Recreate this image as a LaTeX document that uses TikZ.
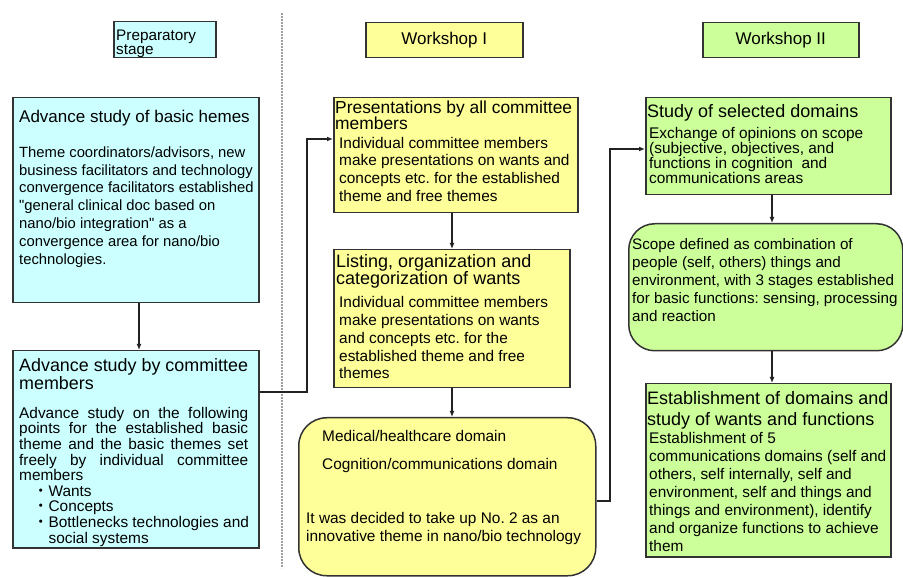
\documentclass[tikz,border=0pt]{standalone}
\usepackage{fontspec}
\setmainfont{Liberation Sans}
\newfontfamily\cjkdot{Noto Sans CJK JP}
% same face without the TeX input mapping, for a straight double quote
\newfontfamily\qfont{Liberation Sans}[Ligatures=ResetAll]
\usetikzlibrary{arrows.meta}
\frenchspacing

\definecolor{prepfill}{HTML}{CCFFFF}
\definecolor{wsonefill}{HTML}{FFFF99}
\definecolor{wstwofill}{HTML}{CCFF99}
\definecolor{edgecol}{HTML}{333333}
\definecolor{linecol}{HTML}{222222}

% fixed first-line height so that the top of a text block sits 0.75em above its first baseline
\newcommand{\fl}{\rule{0pt}{0.75em}}
% straight double quote
\newcommand{\sq}{{\qfont"}}

\tikzset{
  box/.style={draw=edgecol, line width=1.5pt, inner sep=0pt, anchor=north west},
  hdr/.style={box, font=\fontsize{17}{18}\selectfont},
  title/.style={anchor=north west, inner sep=0pt, align=left},
  body/.style={anchor=north west, inner sep=0pt, align=left},
  arr/.style={draw=linecol, line width=1.2pt, -{Latex[length=6pt,width=5pt]}},
  divider/.style={draw=gray!75, line width=1.3pt, dash pattern=on 2pt off 1pt},
}

\begin{document}
\begin{tikzpicture}[x=1pt,y=-1pt]
\useasboundingbox (0,0) rectangle (903,577);

% stage separator
\coordinate (dtop) at (282,13);
\coordinate (dbot) at (282,568);
\draw[divider] (dtop) -- (dbot);

% ---------- preparatory stage ----------
\node[box, fill=prepfill, minimum width=102pt, minimum height=36pt] (prep) at (113,21) {};
\node[title, font=\fontsize{15.3}{13}\selectfont] (prept) at (116,28.5) {\fl Preparatory\\stage};

\node[box, fill=prepfill, minimum width=246pt, minimum height=205pt] (b1) at (12,97) {};
\node[title, font=\fontsize{17}{18}\selectfont] (b1t) at (19,109.25) {\fl Advance study of basic hemes};
\node[body, font=\fontsize{14.8}{17.9}\selectfont] (b1b) at (19,145.9)
  {\fl Theme coordinators/advisors, new\\
   business facilitators and technology\\
   convergence facilitators established\\
   \sq general clinical doc based on\\
   nano/bio integration\sq\ as a\\
   convergence area for nano/bio\\
   technologies.};

\node[box, fill=prepfill, minimum width=246pt, minimum height=197pt] (b2) at (12,350) {};
\node[title, font=\fontsize{17.9}{18}\selectfont] (b2t) at (19,357.6) {\fl Advance study by committee\\members};
\node[body, font=\fontsize{15.4}{15.6}\selectfont] (b2b) at (19,406.45)
  {\fl\makebox[229pt][s]{Advance study on the following}\\
   \makebox[229pt][s]{points for the established basic}\\
   \makebox[229pt][s]{theme and the basic themes set}\\
   \makebox[229pt][s]{freely by individual committee}\\
   members\\
   \hspace*{14pt}{\cjkdot ・}Wants\\
   \hspace*{14pt}{\cjkdot ・}Concepts\\
   \hspace*{14pt}{\cjkdot ・}Bottlenecks technologies and\\
   \hspace*{29.4pt}social systems};

% ---------- workshop I ----------
\node[hdr, fill=wsonefill, minimum width=157pt, minimum height=35pt] (w1) at (365,22) {Workshop I};

\node[box, fill=wsonefill, minimum width=244pt, minimum height=115pt] (p1) at (333,97) {};
\node[title, font=\fontsize{17.4}{16.5}\selectfont] (p1t) at (335,100) {\fl Presentations by all committee\\members};
\node[body, font=\fontsize{15.4}{17.8}\selectfont] (p1b) at (339,136.45)
  {\fl Individual committee members\\
   make presentations on wants and\\
   concepts etc. for the established\\
   theme and free themes};

\node[box, fill=wsonefill, minimum width=236pt, minimum height=138pt] (l1) at (333,249) {};
\node[title, font=\fontsize{18}{17.3}\selectfont] (l1t) at (336,253.5) {\fl Listing, organization and\\categorization of wants};
\node[body, font=\fontsize{15.4}{17.8}\selectfont] (l1b) at (339,295.95)
  {\fl Individual committee members\\
   make presentations on wants\\
   and concepts etc. for the\\
   established theme and free\\
   themes};

\node[box, fill=wsonefill, rounded corners=28pt, minimum width=297pt, minimum height=158pt] (r1) at (298,417) {};
\node[body, font=\fontsize{15.4}{28}\selectfont] (r1a) at (322,429.95)
  {\fl Medical/healthcare domain\\Cognition/communications domain};
\node[body, font=\fontsize{15.4}{18}\selectfont] (r1b) at (306,511.95)
  {\fl It was decided to take up No. 2 as an\\innovative theme in nano/bio technology};

% ---------- workshop II ----------
\node[hdr, fill=wstwofill, minimum width=156pt, minimum height=35pt] (w2) at (702,22) {Workshop II};

\node[box, fill=wstwofill, minimum width=245pt, minimum height=97pt] (s1) at (645,97) {};
\node[title, font=\fontsize{18}{18}\selectfont] (s1t) at (647,103.5) {\fl Study of selected domains};
\node[body, font=\fontsize{15.4}{15}\selectfont] (s1b) at (649,126.45)
  {\fl Exchange of opinions on scope\\
   (subjective, objectives, and\\
   functions in cognition\ \ and\\
   communications areas};

\node[box, fill=wstwofill, rounded corners=26pt, minimum width=274pt, minimum height=127pt] (sc) at (628,223) {};
\node[body, font=\fontsize{15.2}{18}\selectfont] (scb) at (632,237.6)
  {\fl Scope defined as combination of\\
   people (self, others) things and\\
   environment, with 3 stages established\\
   for basic functions: sensing, processing\\
   and reaction};

\node[box, fill=wstwofill, minimum width=245pt, minimum height=173pt] (e1) at (645,383) {};
\node[title, font=\fontsize{18}{21.7}\selectfont] (e1t) at (647,390.5) {\fl Establishment of domains and\\study of wants and functions};
\node[body, font=\fontsize{15.4}{18.1}\selectfont] (e1b) at (649,431.45)
  {\fl Establishment of 5\\
   communications domains (self and\\
   others, self internally, self and\\
   environment, self and things and\\
   things and environment), identify\\
   and organize functions to achieve\\
   them};

% ---------- connectors ----------
\coordinate (j0) at (307,392);
\coordinate (j1) at (307,139);
\coordinate (j2) at (610,501);
\coordinate (j3) at (610,149);
\coordinate (ax1) at (139,0);
\coordinate (ax2) at (452,0);
\coordinate (ax3) at (772,0);

\draw[arr] (b1.south -| ax1) -- (b2.north -| ax1);
\draw[arr] (b2.east |- j0) -- (j0) -- (j1) -- (p1.west |- j1);
\draw[arr] (p1.south -| ax2) -- (l1.north -| ax2);
\draw[arr] (l1.south -| ax2) -- (r1.north -| ax2);
\draw[arr] (r1.east |- j2) -- (j2) -- (j3) -- (s1.west |- j3);
\draw[arr] (s1.south -| ax3) -- (sc.north -| ax3);
\draw[arr] (sc.south -| ax3) -- (e1.north -| ax3);
\end{tikzpicture}
\end{document}
